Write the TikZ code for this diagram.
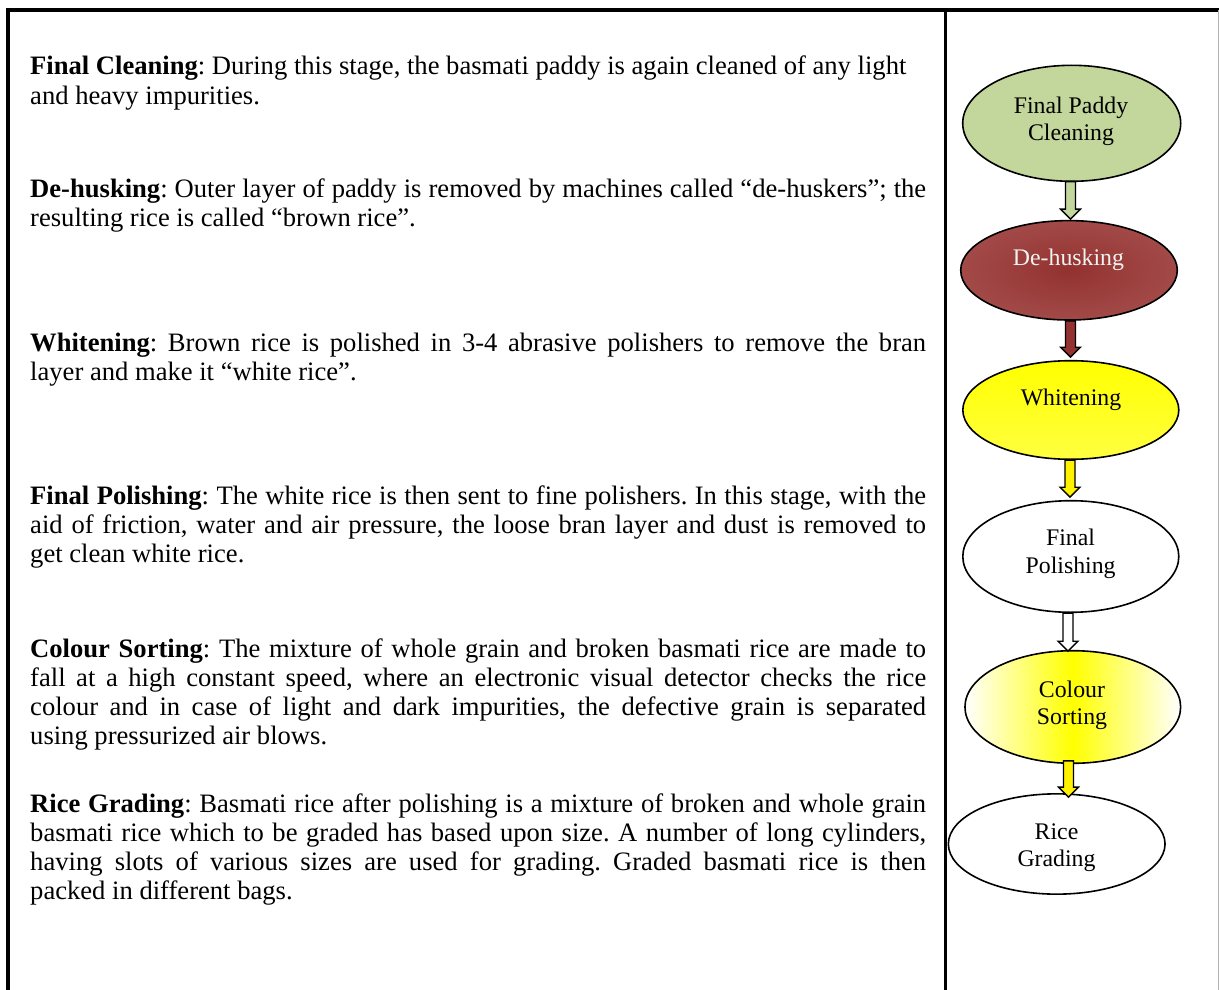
\documentclass[tikz,border=0pt]{standalone}
\usepackage{fontspec}
\setmainfont{Liberation Serif}
\usetikzlibrary{shapes.geometric,calc}
\definecolor{olivefill}{HTML}{C3D69B}
\definecolor{husk}{HTML}{933230}
\definecolor{huskout}{HTML}{A24A48}
\definecolor{palewhite}{HTML}{F2F2F2}
\definecolor{paleyellow}{HTML}{FFFF40}
\frenchspacing
\tikzset{
  frameline/.style={line width=3.4pt, black},
  bodyline/.style={anchor=base west, inner sep=0pt, font=\fontsize{26.6}{29}\selectfont\frenchspacing},
  stage/.style={ellipse, draw=black, line width=1.6pt, inner sep=0pt},
  stagetext/.style={inner sep=0pt, align=center, font=\fontsize{23.8}{27.5}\selectfont},
  blockarrowstyle/.style={draw=black, line width=1.4pt, line join=miter},
}
\newcommand\blockarrow[3]{%
  \coordinate (ba-s) at #1;
  \coordinate (ba-t) at #2;
  \coordinate (ba-p) at (ba-s |- ba-t);
  \draw[blockarrowstyle, fill=#3] ($(ba-s)+(-5,0)$) -- ($(ba-p)+(-5,-10)$) -- ($(ba-p)+(-10,-10)$)
    -- (ba-p) -- ($(ba-p)+(10,-10)$) -- ($(ba-p)+(5,-10)$) -- ($(ba-s)+(5,0)$) -- cycle;}
\newcommand\jline[1]{\makebox[896pt][s]{#1}}
\begin{document}
\begin{tikzpicture}[x=1pt,y=-1pt]
\useasboundingbox (0,0) rectangle (1219,990);
% frame
\draw[frameline] (8,990) -- (8,10);
\draw[frameline] (6.3,10) -- (1219,10);
\draw[frameline, line width=3.2pt] (945.7,10) -- (945.7,990);
\draw[gray!60, line width=1pt] (1218,10) -- (1218,990);

% body text
\node[bodyline] (p1a) at (30,75) {\textbf{Final Cleaning}: During this stage, the basmati paddy is again cleaned of any light};
\node[bodyline] (p1b) at (30,104) {and heavy impurities.};

\node[bodyline] (p2a) at (30,197) {\jline{\textbf{De-husking}: Outer layer of paddy is removed by machines called “de-huskers”; the}};
\node[bodyline] (p2b) at (30,226) {resulting rice is called “brown rice”.};

\node[bodyline] (p3a) at (30,351) {\jline{\textbf{Whitening}: Brown rice is polished in 3-4 abrasive polishers to remove the bran}};
\node[bodyline] (p3b) at (30,380) {layer and make it “white rice”.};

\node[bodyline] (p4a) at (30,504) {\jline{\textbf{Final Polishing}: The white rice is then sent to fine polishers. In this stage, with the}};
\node[bodyline] (p4b) at (30,533) {\jline{aid of friction, water and air pressure, the loose bran layer and dust is removed to}};
\node[bodyline] (p4c) at (30,562) {get clean white rice.};

\node[bodyline] (p5a) at (30,657) {\jline{\textbf{Colour Sorting}: The mixture of whole grain and broken basmati rice are made to}};
\node[bodyline] (p5b) at (30,686) {\jline{fall at a high constant speed, where an electronic visual detector checks the rice}};
\node[bodyline] (p5c) at (30,715) {\jline{colour and in case of light and dark impurities, the defective grain is separated}};
\node[bodyline] (p5d) at (30,744) {using pressurized air blows.};

\node[bodyline] (p6a) at (30,812) {\jline{\textbf{Rice Grading}: Basmati rice after polishing is a mixture of broken and whole grain}};
\node[bodyline] (p6b) at (30,841) {\jline{basmati rice which to be graded has based upon size. A number of long cylinders,}};
\node[bodyline] (p6c) at (30,870) {\jline{having slots of various sizes are used for grading. Graded basmati rice is then}};
\node[bodyline] (p6d) at (30,899) {packed in different bags.};

% stages
\node[stage, fill=olivefill, minimum width=218, minimum height=116] (e1) at (1071.7,123.3) {};
\node[stage, inner color=husk, outer color=huskout, minimum width=216.6, minimum height=99.4] (e2) at (1069,270.3) {};
\node[stage, top color=yellow, bottom color=paleyellow, minimum width=216, minimum height=98.6] (e3) at (1070.8,410) {};
\node[stage, fill=white, minimum width=216, minimum height=111.6] (e4) at (1070.8,556.5) {};
\node[stage, left color=white, right color=white, middle color=yellow, minimum width=215.7, minimum height=112.6] (e5) at (1072.8,707) {};
\node[stage, fill=white, minimum width=216.7, minimum height=100.3] (e6) at (1056.7,844) {};

\node[stagetext, anchor=north] (t1) at (1071,95) {\rule{0pt}{18pt}Final Paddy\\Cleaning};
\node[stagetext, anchor=base, text=palewhite] (t2) at (1068.5,265) {De-husking};
\node[stagetext, anchor=base] (t3) at (1071,405) {Whitening};
\node[stagetext, anchor=north] (t4) at (1070.6,527.7) {\rule{0pt}{18pt}Final\\Polishing};
\node[stagetext, anchor=north] (t5) at (1072,679) {\rule{0pt}{18pt}Colour\\Sorting};
\node[stagetext, anchor=north] (t6) at (1056.5,821) {\rule{0pt}{18pt}Rice\\Grading};

% arrows
\blockarrow{($(e1.south)+(-1.2,-0.5)$)}{($(e2.north)+(0,-0.7)$)}{olivefill}
\blockarrow{($(e2.south)+(1.5,0)$)}{($(e3.north)+(0,-2.7)$)}{husk}
\blockarrow{($(e3.south)+(-0.8,0)$)}{($(e4.north)+(0,-2.7)$)}{yellow}
\blockarrow{($(e4.south)+(-2.8,0)$)}{($(e5.north)+(0,1.3)$)}{white}
\blockarrow{($(e5.south)+(-4.3,-3.3)$)}{($(e6.north)+(0,4)$)}{yellow}
\end{tikzpicture}
\end{document}
